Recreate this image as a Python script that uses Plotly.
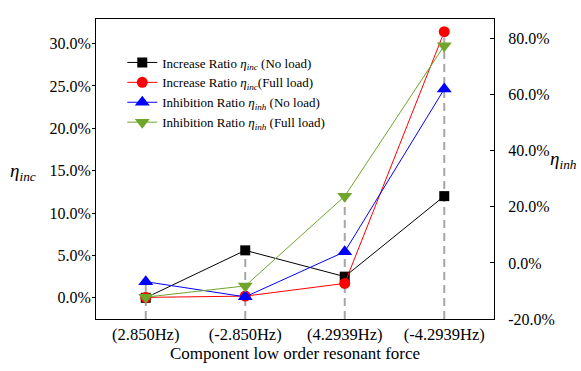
import plotly.graph_objects as go

categories = ["(2.850Hz)", "(-2.850Hz)", "(4.2939Hz)", "(-4.2939Hz)"]
inc_no_load = [0.0, 5.6, 2.5, 12.0]      # left axis, %
inc_full_load = [0.05, 0.2, 1.7, 31.4]   # left axis, %
inh_no_load = [-6.7, -12.1, 4.0, 62.0]   # right axis, %
inh_full_load = [-12.2, -8.2, 23.8, 77.5]  # right axis, %

left_ticks = [0, 5, 10, 15, 20, 25, 30]
left_tick_labels = ["0.0%", "5.0%", "10.0%", "15.0%", "20.0%", "25.0%", "30.0%"]
right_ticks = [-20, 0, 20, 40, 60, 80]
right_tick_labels = ["-20.0%", "0.0%", "20.0%", "40.0%", "60.0%", "80.0%"]

L_RANGE = [-2.5, 32.9]
R_RANGE = [-20, 87]

FONT = "Liberation Serif"

def to_left(v):
    return L_RANGE[0] + (v - R_RANGE[0]) * (L_RANGE[1] - L_RANGE[0]) / (R_RANGE[1] - R_RANGE[0])

# drop lines (to the highest mark of each category)
drop_x, drop_y = [], []
for i, c in enumerate(categories):
    top = max(inc_no_load[i], inc_full_load[i], to_left(inh_no_load[i]), to_left(inh_full_load[i]))
    drop_x += [c, c, None]
    drop_y += [L_RANGE[0], top, None]

fig = go.Figure()
fig.add_trace(go.Scatter(x=drop_x, y=drop_y, mode="lines", showlegend=False,
                         line=dict(color="#a6a6a6", width=2, dash="8px,5px"), hoverinfo="skip"))

fig.add_trace(go.Scatter(x=categories, y=inc_no_load, mode="lines+markers",
                         name="Increase Ratio <i>η<sub>inc</sub></i> (No load)",
                         line=dict(color="#000000", width=1),
                         marker=dict(symbol="square", size=10, color="#000000")))
fig.add_trace(go.Scatter(x=categories, y=inc_full_load, mode="lines+markers",
                         name="Increase Ratio <i>η<sub>inc</sub></i>(Full load)",
                         line=dict(color="#ff0000", width=1),
                         marker=dict(symbol="circle", size=11, color="#ff0000")))
fig.add_trace(go.Scatter(x=categories, y=inh_no_load, mode="lines+markers", yaxis="y2",
                         name="Inhibition Ratio <i>η<sub>inh</sub></i> (No load)",
                         line=dict(color="#0000ff", width=1),
                         marker=dict(symbol="triangle-up", size=13, color="#0000ff")))
fig.add_trace(go.Scatter(x=categories, y=inh_full_load, mode="lines+markers", yaxis="y2",
                         name="Inhibition Ratio <i>η<sub>inh</sub></i> (Full load)",
                         line=dict(color="#6ea52a", width=1),
                         marker=dict(symbol="triangle-down", size=13, color="#6ea52a")))

fig.update_layout(
    width=581, height=371,
    margin=dict(l=96, r=87, t=19, b=52, autoexpand=False),
    paper_bgcolor="white", plot_bgcolor="white",
    font=dict(family=FONT, size=16, color="#000000"),
    xaxis=dict(type="category", range=[-0.5, 3.5], showline=True, linecolor="#000000",
               linewidth=1, mirror=True, ticks="", showgrid=False, zeroline=False,
               tickfont=dict(size=16.5), automargin=False,
               title=dict(text="Component low order resonant force", font=dict(size=17), standoff=4)),
    yaxis=dict(range=L_RANGE, tickvals=left_ticks, ticktext=left_tick_labels,
               showline=True, linecolor="#000000", linewidth=1, ticks="outside", ticklen=3,
               tickcolor="#000000", showgrid=False, zeroline=False, automargin=False,
               ticklabelstandoff=-2),
    yaxis2=dict(range=R_RANGE, overlaying="y", side="right", tickvals=right_ticks,
                ticktext=right_tick_labels, showline=True, linecolor="#000000", linewidth=1,
                ticks="inside", ticklen=4, tickcolor="#000000", showgrid=False, zeroline=False,
                ticklabelstandoff=10, automargin=False),
    legend=dict(x=0.066, y=0.905, xanchor="left", yanchor="top", bgcolor="rgba(0,0,0,0)",
                font=dict(size=13), tracegroupgap=0, itemwidth=30),
    showlegend=True,
    annotations=[
        dict(text="<i>η<sub>inc</sub></i>", xref="paper", yref="paper", x=-0.183, y=0.49,
             showarrow=False, font=dict(size=19), xanchor="center", yanchor="middle"),
        dict(text="<i>η<sub>inh</sub></i>", xref="paper", yref="paper", x=1.175, y=0.53,
             showarrow=False, font=dict(size=19), xanchor="center", yanchor="middle"),
    ],
)

fig.write_html("out.html", config={"displayModeBar": False},
               post_script="document.body.style.margin='0px';")
